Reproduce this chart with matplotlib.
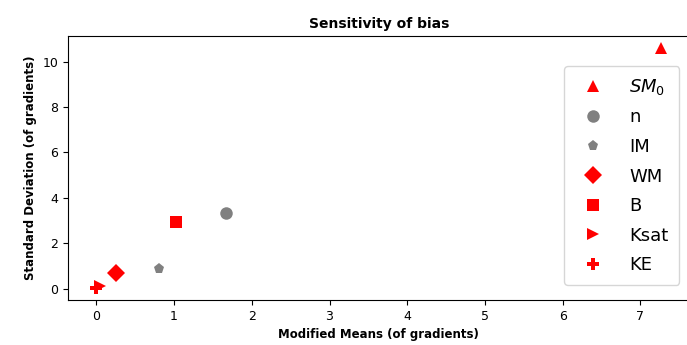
import matplotlib
matplotlib.use("Agg")
import matplotlib.pyplot as plt

labels = [r"$SM_0$", "n", "IM", "WM", "B", "Ksat", "KE"]
means = [7.27, 1.67, 0.81, 0.26, 1.02, 0.05, 0.0]
stds = [10.6, 3.32, 0.88, 0.71, 2.92, 0.13, 0.03]
colors = ["red", "gray", "gray", "red", "red", "red", "red"]
markers = ["^", "o", "p", "D", "s", ">", "P"]
sizes = [9, 9, 8, 9, 9, 9, 9]

fig = plt.figure(figsize=(6.87, 3.45), dpi=100)
ax = fig.add_axes([0.099, 0.130, 0.905, 0.766])

for lab, x, y, c, m, s in zip(labels, means, stds, colors, markers, sizes):
    ax.plot([x], [y], linestyle="none", marker=m, color=c, markersize=s,
            markeredgewidth=0, label=lab)

ax.set_xticks(range(0, 8))
ax.set_yticks(range(0, 11, 2))
ax.tick_params(labelsize=9)
ax.set_title("Sensitivity of bias", fontsize=10, fontweight="bold", pad=6)
ax.set_xlabel("Modified Means (of gradients)", fontsize=8.5, fontweight="bold")
ax.set_ylabel("Standard Deviation (of gradients)", fontsize=8.5, fontweight="bold")

ax.legend(loc="upper right", bbox_to_anchor=(0.998, 0.92), fontsize=13,
          handletextpad=1.0, labelspacing=0.64, borderpad=0.6)

fig.savefig("out.png", dpi=100)
